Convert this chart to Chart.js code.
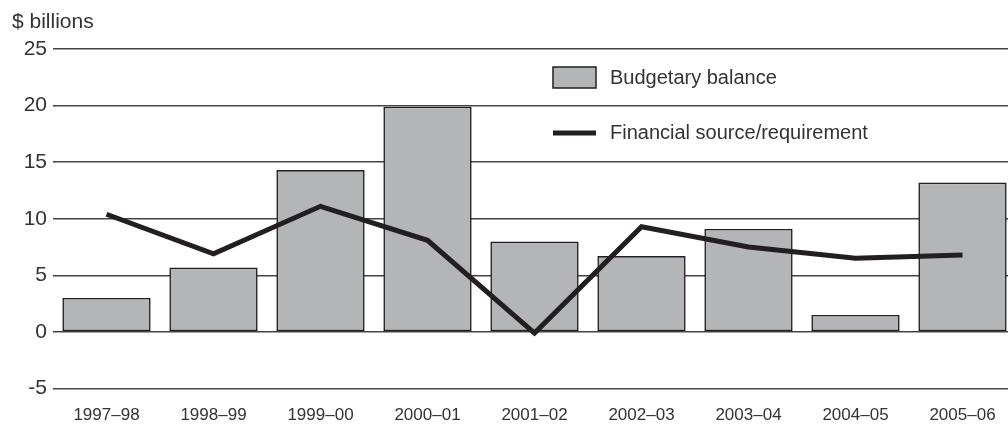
<!DOCTYPE html>
<html>
<head>
<meta charset="utf-8">
<script src="https://cdn.jsdelivr.net/npm/chart.js@4"></script>
<style>
  html, body { margin: 0; padding: 0; background: #fff; overflow: hidden; }
  #wrap { width: 1016px; height: 427px; }
</style>
</head>
<body>
<div id="wrap"><canvas id="budgetChart" width="1016" height="427"></canvas></div>
<script>
// ── Data ─────────────────────────────────────────────────────────────────────

const YEARS = ['1997–98', '1998–99', '1999–00', '2000–01', '2001–02', '2002–03', '2003–04', '2004–05', '2005–06'];
const BUDGETARY_BALANCE = [3.0, 5.7, 14.3, 19.9, 8.0, 6.7, 9.1, 1.5, 13.2];
const FINANCIAL_SOURCE = [10.4, 6.9, 11.1, 8.1, -0.1, 9.3, 7.5, 6.5, 6.8];
const Y_TICKS = [-5, 0, 5, 10, 15, 20, 25];

// ── Constants ────────────────────────────────────────────────────────────────

const BAR_FILL = '#b4b5b7';
const INK = '#231f20';
const TEXT = '#333333';
const GRID = '#444444';
const FONT = 'Liberation Sans, Arial, sans-serif';

// Unit label and the stacked legend drawn inside the plot
const annotations = {
    id: 'annotations',
    afterDraw(chart) {
        const ctx = chart.ctx;
        const area = chart.chartArea;
        ctx.save();
        ctx.fillStyle = TEXT;
        ctx.textBaseline = 'middle';
        ctx.textAlign = 'left';
        ctx.font = '21px ' + FONT;
        ctx.fillText('$ billions', 12, 22);

        const lx = area.left + 500;
        const bar = chart.data.datasets[1];
        const line = chart.data.datasets[0];

        ctx.fillStyle = BAR_FILL;
        ctx.strokeStyle = INK;
        ctx.lineWidth = 1.5;
        ctx.fillRect(lx, 67, 43, 21);
        ctx.strokeRect(lx, 67, 43, 21);

        ctx.beginPath();
        ctx.lineWidth = 5;
        ctx.moveTo(lx, 133);
        ctx.lineTo(lx + 43, 133);
        ctx.stroke();

        ctx.fillStyle = TEXT;
        ctx.font = '20px ' + FONT;
        ctx.fillText(bar.label, lx + 57, 78);
        ctx.fillText(line.label, lx + 57, 133);
        ctx.restore();
    }
};

// ── Chart ────────────────────────────────────────────────────────────────────

new Chart(document.getElementById('budgetChart'), {
    data: {
        labels: YEARS,
        datasets: [
            {
                type: 'line',
                label: 'Financial source/requirement',
                data: FINANCIAL_SOURCE,
                borderColor: INK,
                borderWidth: 5,
                borderJoinStyle: 'miter',
                pointRadius: 0,
                tension: 0,
                order: 0
            },
            {
                type: 'bar',
                label: 'Budgetary balance',
                data: BUDGETARY_BALANCE,
                backgroundColor: BAR_FILL,
                borderColor: INK,
                borderWidth: 1.6,
                borderSkipped: false,
                barPercentage: 0.825,
                categoryPercentage: 1,
                order: 1
            }
        ]
    },
    options: {
        responsive: false,
        animation: false,
        layout: { padding: { top: 49, left: 0, right: 0, bottom: 0 } },
        plugins: {
            legend: { display: false },
            tooltip: { enabled: false }
        },
        scales: {
            x: {
                grid: { display: false, drawTicks: false },
                border: { display: false },
                ticks: { font: { size: 17, family: FONT }, color: TEXT, padding: 17, maxRotation: 0 },
                afterFit: s => { s.height = 38.5; }
            },
            y: {
                min: -5,
                max: 25,
                afterBuildTicks: s => { s.ticks = Y_TICKS.map(v => ({ value: v })); },
                grid: { color: GRID, lineWidth: 1.4, drawTicks: false },
                border: { display: false },
                ticks: { font: { size: 21, family: FONT }, color: TEXT, padding: 6 },
                afterFit: s => { s.width = 53; }
            }
        }
    },
    plugins: [annotations]
});
</script>
</body>
</html>
